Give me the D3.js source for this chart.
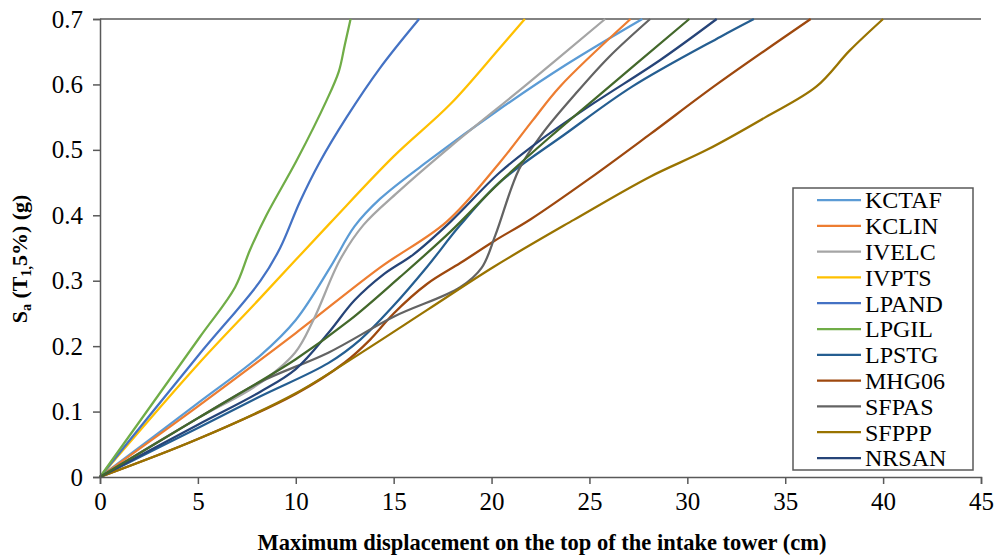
<!DOCTYPE html>
<html><head><meta charset="utf-8">
<script src="https://cdn.jsdelivr.net/npm/d3@7"></script>
<style>body{margin:0;background:#fff;} svg{display:block;} .serif{font-family:"Liberation Serif",serif;}</style>
</head><body>
<svg id="c" width="995" height="556"></svg>
<script>
const xTicks = [0,5,10,15,20,25,30,35,40,45];
const yTicks = [0,0.1,0.2,0.3,0.4,0.5,0.6,0.7];
const seriesNames = ["KCTAF","KCLIN","IVELC","IVPTS","LPAND","LPGIL","LPSTG","MHG06","SFPAS","SFPPP","NRSAN","(unlabeled)"];
const seriesColors = ["#5B9BD5","#ED7D31","#A5A5A5","#FFC000","#4472C4","#70AD47","#255E91","#9E480E","#636363","#997300","#264478","#43682B"];
const legendCount = 11;

const KCTAF = [[0,0],[5,0.113],[8.2,0.186],[10,0.24],[11.75,0.32],[13,0.383],[14.3,0.425],[16.85,0.485],[20.4,0.562],[23.8,0.63],[27.7,0.7]];
const KCLIN = [[0,0],[5,0.108],[10,0.22],[14.3,0.32],[17.7,0.39],[20.4,0.48],[22.1,0.545],[23.5,0.597],[27.1,0.7]];
const IVELC = [[0,0],[5,0.09],[8,0.14],[9.96,0.19],[10.9,0.24],[12.26,0.332],[13.45,0.385],[15.2,0.435],[17.9,0.505],[21.8,0.6],[25.8,0.7]];
const IVPTS = [[0,0],[5,0.172],[8.17,0.273],[11.75,0.388],[15,0.49],[17.9,0.57],[20.4,0.655],[21.7,0.7]];
const LPAND = [[0,0],[5,0.185],[8.2,0.3],[9.2,0.35],[10.2,0.42],[11.2,0.48],[12.6,0.55],[14.3,0.625],[16.3,0.7]];
const LPGIL = [[0,0],[5.1,0.214],[6.9,0.29],[7.66,0.347],[8.5,0.4],[10.05,0.484],[11.58,0.576],[12.2,0.62],[12.5,0.66],[12.8,0.7]];
const LPSTG = [[0,0],[5,0.075],[8.17,0.123],[11.66,0.174],[13.3,0.21],[15.0,0.262],[16.7,0.321],[18.4,0.385],[20.4,0.45],[23.8,0.525],[27.2,0.597],[31.7,0.673],[33.4,0.7]];
const MHG06 = [[0,0],[5,0.058],[10,0.127],[12.5,0.175],[13.8,0.21],[15,0.25],[16.7,0.295],[18.4,0.327],[20.1,0.36],[22,0.394],[25,0.456],[28.1,0.524],[31.5,0.6],[36.3,0.7]];
const SFPAS = [[0,0],[5,0.09],[8.17,0.145],[11.66,0.19],[15,0.245],[18.4,0.29],[19.5,0.32],[20.2,0.37],[21.4,0.47],[22.6,0.525],[24.3,0.586],[26,0.642],[28.1,0.7]];
const SFPPP = [[0,0],[5,0.058],[10,0.128],[13.3,0.189],[16.7,0.255],[20.1,0.321],[24.2,0.393],[28.1,0.459],[31,0.5],[34,0.55],[36.6,0.597],[38.3,0.652],[40,0.7]];
const NRSAN = [[0,0],[5,0.08],[8.17,0.13],[10,0.165],[11.66,0.22],[13,0.27],[14.5,0.31],[16,0.34],[17.9,0.39],[20.4,0.465],[22.5,0.515],[25.2,0.571],[28.6,0.637],[31.5,0.7]];
const EXTRA = [[0,0],[5,0.09],[10,0.18],[12.77,0.24],[15.3,0.305],[17.9,0.375],[20.4,0.45],[23,0.52],[25.2,0.576],[30.1,0.7]];
const seriesData = [KCTAF,KCLIN,IVELC,IVPTS,LPAND,LPGIL,LPSTG,MHG06,SFPAS,SFPPP,NRSAN,EXTRA];

const svg = d3.select("#c");
const x = d3.scaleLinear().domain([0,45]).range([100,981]);
const y = d3.scaleLinear().domain([0,0.7]).range([477,19]);
const axisColor = "#595959";

svg.append("line").attr("x1",x(0)).attr("x2",x(45)).attr("y1",y(0.7)).attr("y2",y(0.7))
  .attr("stroke",axisColor).attr("stroke-width",1.5);

const line = d3.line().x(d=>x(d[0])).y(d=>y(d[1])).curve(d3.curveCatmullRom.alpha(0.5));
seriesData.forEach((s,i)=>{
  svg.append("path").attr("d",line(s)).attr("fill","none")
    .attr("stroke",seriesColors[i]).attr("stroke-width",2.25);
});

const xa = svg.append("g").attr("transform",`translate(0,${y(0)})`)
  .call(d3.axisBottom(x).tickValues(xTicks).tickSize(7).tickPadding(8).tickFormat(d3.format("d")));
const ya = svg.append("g").attr("transform",`translate(${x(0)},0)`)
  .call(d3.axisLeft(y).tickValues(yTicks).tickSize(7).tickPadding(10).tickFormat(d=>d===0?"0":d3.format(".1f")(d)));
[xa,ya].forEach(g=>{
  g.attr("font-family",null).attr("font-size",null);
  g.select(".domain").attr("stroke",axisColor).attr("stroke-width",1.5);
  g.selectAll(".tick line").attr("stroke",axisColor).attr("stroke-width",1.5);
  g.selectAll(".tick text").attr("class","serif").attr("fill","#000").attr("font-size",25);
});

svg.append("text").attr("class","serif").attr("x",542).attr("y",550).attr("text-anchor","middle")
  .attr("font-size",22.5).attr("font-weight","bold")
  .text("Maximum displacement on the top of the intake tower (cm)");
const yt = svg.append("text").attr("class","serif").attr("transform","translate(27,259) rotate(-90)").attr("text-anchor","middle")
  .attr("font-size",22).attr("font-weight","bold");
yt.append("tspan").text("S");
yt.append("tspan").attr("dy",4).attr("font-size",14).text("a");
yt.append("tspan").attr("dy",-4).text(" (T");
yt.append("tspan").attr("dy",4).attr("font-size",14).text("1,");
yt.append("tspan").attr("dy",-4).text("5%) (g)");

const lg = svg.append("g");
lg.append("rect").attr("x",793).attr("y",188).attr("width",180).attr("height",282)
  .attr("fill","#fff").attr("stroke",axisColor).attr("stroke-width",1.5);
for(let i=0;i<legendCount;i++){
  const yy = 200 + i*25.8;
  lg.append("line").attr("x1",817).attr("x2",861).attr("y1",yy).attr("y2",yy)
    .attr("stroke",seriesColors[i]).attr("stroke-width",2.25);
  lg.append("text").attr("class","serif").attr("x",865).attr("y",yy).attr("dy","0.35em")
    .attr("font-size",24).attr("fill","#000").text(seriesNames[i]);
}
</script>
</body></html>
